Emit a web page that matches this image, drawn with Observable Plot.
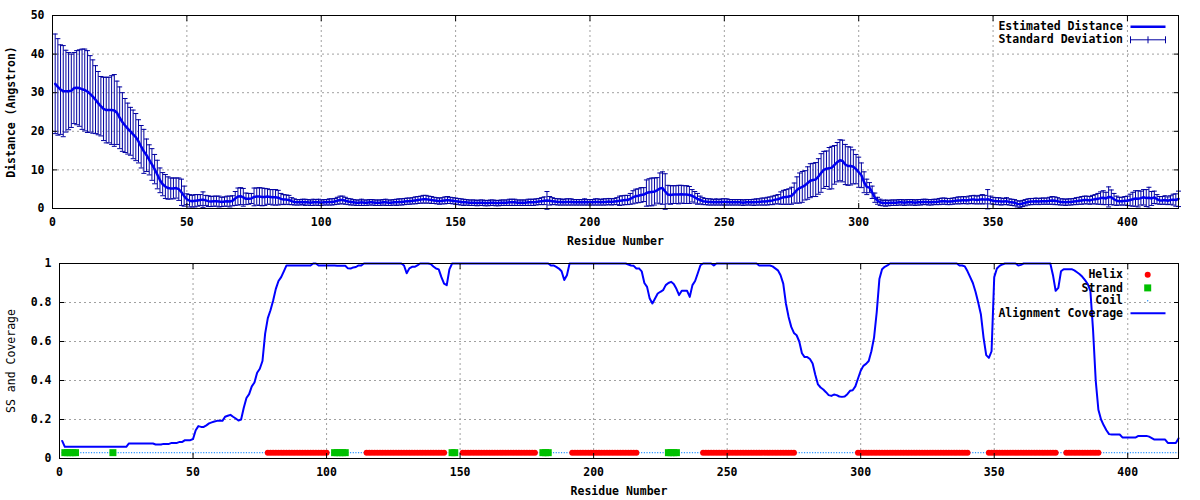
<!DOCTYPE html>
<html>
<head>
<meta charset="utf-8">
<script src="https://cdn.jsdelivr.net/npm/d3@7"></script>
<script src="https://cdn.jsdelivr.net/npm/@observablehq/plot@0.6"></script>
<style>
  body { margin: 0; background: #ffffff; }
  #chart { width: 1200px; height: 500px; }
  #chart svg { display: block; }
</style>
</head>
<body>
<div id="chart"></div>
<script>
// ---------- DATA ----------
const xTicks = [0, 50, 100, 150, 200, 250, 300, 350, 400];
const distanceTicks = [0, 10, 20, 30, 40, 50];
const coverageTicks = [0, 0.2, 0.4, 0.6, 0.8, 1];

// Estimated distance (Angstrom) per residue 1..419
const meanDistance = [
  32.3,31.5,30.8,30.4,30.4,30.4,30.5,31.2,31.3,31.2,
  30.9,30.7,30.3,29.7,29.0,28.2,27.3,26.5,25.8,25.5,
  25.5,25.5,25.4,24.8,23.5,22.4,21.5,20.7,20.0,19.2,
  18.5,17.4,16.0,14.8,13.8,12.6,11.4,10.2,8.8,7.3,
  6.3,5.7,5.3,5.2,5.2,5.3,5.0,4.2,3.2,2.4,
  2.0,1.9,2.0,2.1,2.2,2.3,2.1,1.9,1.8,1.9,
  1.9,1.8,1.7,1.8,1.9,1.8,2.0,2.6,3.1,3.2,
  2.9,2.5,2.5,2.6,3.0,3.1,3.1,3.0,3.0,3.1,
  3.0,2.9,2.9,2.8,2.5,2.3,2.3,2.2,1.9,1.7,
  1.6,1.6,1.7,1.6,1.6,1.5,1.6,1.6,1.6,1.5,
  1.6,1.6,1.7,1.7,1.8,2.0,2.2,2.2,2.0,1.8,
  1.7,1.6,1.5,1.5,1.6,1.5,1.5,1.6,1.6,1.5,
  1.5,1.5,1.6,1.6,1.5,1.5,1.6,1.6,1.7,1.7,
  1.8,1.9,1.9,2.0,2.1,2.2,2.3,2.4,2.4,2.3,
  2.2,2.1,2.0,1.9,2.0,2.1,2.2,2.1,2.0,1.9,
  1.8,1.7,1.6,1.6,1.5,1.5,1.5,1.4,1.5,1.5,
  1.4,1.4,1.5,1.5,1.4,1.4,1.5,1.5,1.5,1.6,
  1.6,1.6,1.5,1.5,1.5,1.5,1.6,1.6,1.6,1.7,
  1.8,1.9,2.0,2.1,2.0,1.9,1.8,1.7,1.7,1.6,
  1.7,1.7,1.7,1.6,1.6,1.6,1.6,1.7,1.6,1.6,
  1.6,1.7,1.7,1.6,1.7,1.7,1.8,1.7,1.8,1.9,
  2.0,2.1,2.2,2.2,2.5,2.9,3.2,3.3,3.5,3.6,
  4.0,4.2,4.3,4.4,4.7,5.2,5.3,4.4,3.6,3.5,
  3.6,3.6,3.6,3.7,3.6,3.6,3.5,3.3,2.9,2.5,
  2.2,1.9,1.8,1.7,1.7,1.6,1.7,1.6,1.7,1.7,
  1.7,1.6,1.6,1.6,1.6,1.6,1.5,1.6,1.6,1.6,
  1.6,1.7,1.7,1.8,1.8,1.9,2.0,2.1,2.3,2.4,
  2.7,2.9,3.0,3.1,3.3,4.0,4.8,5.3,5.6,6.0,
  6.6,7.2,7.4,7.5,8.3,9.2,10.0,10.3,10.4,10.6,
  11.3,12.0,12.5,12.3,11.4,11.0,11.0,10.8,10.2,9.4,
  8.6,6.8,5.6,5.4,4.2,2.8,2.0,1.6,1.4,1.4,
  1.4,1.5,1.5,1.5,1.6,1.6,1.5,1.6,1.6,1.6,
  1.5,1.6,1.6,1.7,1.7,1.6,1.6,1.7,1.7,1.8,
  1.9,1.9,1.8,1.8,1.9,2.0,2.1,2.1,2.2,2.1,
  2.2,2.3,2.3,2.2,2.3,2.4,2.3,2.4,2.2,2.0,
  1.9,1.9,1.8,1.8,1.9,1.7,1.6,1.5,1.2,1.1,
  1.3,1.5,1.7,1.8,1.8,1.9,1.8,1.9,1.9,1.9,
  2.0,2.1,2.0,1.9,1.7,1.7,1.6,1.7,1.7,1.8,
  1.9,2.0,2.1,2.2,2.2,2.1,2.3,2.4,2.5,2.7,
  2.8,2.6,3.0,2.9,2.4,2.0,1.9,1.9,2.0,2.0,
  2.2,2.4,2.6,2.5,2.7,2.9,2.7,2.8,2.6,2.9,
  2.4,2.1,2.1,2.2,2.0,2.2,2.3,2.2,2.5
];

// Standard deviation per residue 1..419
const stdDeviation = [
  12.9,12.5,11.6,11.8,10.6,10.0,9.5,9.2,9.6,9.9,
  10.4,10.6,10.6,9.9,9.5,8.8,8.2,7.7,8.2,8.5,
  8.5,8.9,9.3,8.2,8.0,7.6,7.0,6.6,6.2,6.3,
  6.1,5.6,5.5,5.7,4.2,3.9,4.1,3.8,3.7,3.2,
  3.0,3.1,2.9,2.7,2.7,2.6,2.9,3.4,2.6,1.4,
  1.6,1.5,1.6,1.5,1.4,2.0,1.3,1.4,1.3,1.3,
  1.3,1.4,1.2,1.2,1.3,1.4,1.3,1.8,2.2,2.2,
  2.3,1.5,1.4,1.3,2.3,2.2,2.3,2.3,2.2,2.0,
  1.9,2.0,2.0,1.9,1.4,1.3,1.2,1.2,0.9,0.8,
  0.7,0.7,0.7,0.8,0.7,0.7,0.8,0.7,0.8,0.7,
  0.7,0.7,0.8,0.8,0.8,0.9,1.0,1.0,0.9,0.8,
  0.8,0.7,0.7,0.7,0.8,0.7,0.7,0.7,0.7,0.7,
  0.7,0.7,0.7,0.8,0.7,0.7,0.7,0.8,0.8,0.8,
  0.8,0.8,0.8,0.8,0.9,0.9,0.9,1.0,1.0,0.9,
  0.9,0.8,0.8,0.8,0.8,0.9,0.9,0.8,0.8,0.8,
  0.8,0.8,0.8,0.7,0.7,0.7,0.7,0.7,0.7,0.7,
  0.7,0.7,0.7,0.7,0.7,0.7,0.7,0.7,0.7,0.8,
  0.8,0.8,0.7,0.7,0.7,0.7,0.8,0.8,0.8,0.8,
  0.8,0.9,1.0,2.3,1.1,0.9,0.8,0.8,0.8,0.7,
  0.8,0.8,0.8,0.7,0.7,0.7,0.7,0.8,0.7,0.7,
  0.7,0.8,0.8,0.7,0.8,0.8,0.8,0.8,0.8,0.9,
  1.2,1.2,1.2,1.2,1.4,1.7,1.8,1.8,1.9,1.8,
  3.4,3.5,3.6,3.5,3.3,4.0,4.2,4.6,2.4,2.4,
  2.3,2.3,2.4,2.3,2.3,2.3,2.2,1.6,1.5,1.4,
  1.0,0.9,0.8,0.8,0.8,0.7,0.8,0.7,0.8,0.8,
  0.8,0.7,0.7,0.7,0.7,0.7,0.7,0.7,0.7,0.7,
  0.8,0.8,0.8,0.9,0.9,1.0,1.0,1.1,1.1,1.2,
  1.6,1.8,1.9,2.0,2.2,2.6,3.4,3.9,4.0,3.8,
  4.2,4.4,4.3,4.4,4.6,5.0,4.8,4.6,5.4,5.5,
  5.0,5.1,5.3,5.4,5.2,5.0,4.9,4.4,3.8,3.9,
  3.2,2.7,2.0,1.3,1.6,1.2,0.9,0.8,0.7,0.8,
  0.7,0.7,0.7,0.7,0.7,0.7,0.7,0.7,0.7,0.7,
  0.7,0.7,0.7,0.7,0.7,0.7,0.7,0.7,0.7,0.8,
  0.8,0.8,0.8,0.8,0.8,0.8,0.9,0.9,0.9,0.9,
  1.0,1.0,1.1,1.0,1.1,1.2,1.1,2.5,1.0,0.9,
  0.9,0.9,0.9,0.8,0.9,0.8,0.8,0.8,0.8,0.8,
  0.8,0.8,0.8,0.8,0.8,0.8,0.8,0.8,0.8,0.8,
  0.9,1.0,1.0,0.9,0.8,0.8,0.8,0.8,0.8,0.8,
  0.9,0.9,1.0,1.0,1.0,1.0,1.1,1.2,1.4,1.6,
  1.8,1.6,2.6,1.9,1.5,1.2,1.0,1.0,1.1,1.2,
  1.5,1.8,2.0,2.1,1.8,2.0,2.2,2.7,1.8,1.6,
  1.2,1.0,1.0,1.1,1.0,1.1,1.4,1.6,2.0
];

// Alignment coverage per residue 1..419
const coverage = [
  0.09,0.06,0.06,0.06,0.06,0.06,0.06,0.06,0.06,0.06,
  0.06,0.06,0.06,0.06,0.06,0.06,0.06,0.06,0.06,0.06,
  0.06,0.06,0.06,0.06,0.06,0.077,0.077,0.077,0.077,0.077,
  0.077,0.077,0.077,0.077,0.077,0.072,0.072,0.072,0.075,0.075,
  0.075,0.08,0.08,0.08,0.085,0.085,0.094,0.094,0.094,0.1,
  0.145,0.166,0.162,0.162,0.17,0.18,0.185,0.19,0.193,0.193,
  0.193,0.214,0.219,0.224,0.214,0.205,0.195,0.2,0.26,0.31,
  0.33,0.37,0.39,0.44,0.46,0.5,0.64,0.72,0.76,0.81,
  0.87,0.91,0.93,0.96,0.99,0.99,0.99,0.99,0.99,0.99,
  0.99,0.99,0.99,0.99,1,1,0.99,0.99,0.99,0.99,
  0.99,0.99,0.99,0.988,0.988,0.988,0.988,0.975,0.974,0.98,
  0.982,0.99,0.99,1,1,1,1,1,1,1,
  1,1,1,1,1,1,1,1,0.99,0.95,
  0.975,0.983,0.983,0.99,1,1,1,1,0.997,0.985,
  0.974,0.97,0.93,0.897,0.889,0.97,1,1,1,1,
  1,1,1,1,1,1,1,1,1,1,
  1,1,1,1,1,1,1,1,1,1,
  1,1,1,1,1,1,1,1,1,1,
  1,1,1,0.99,0.99,0.983,0.974,0.96,0.915,0.94,
  1,1,1,1,1,1,1,1,1,1,
  1,1,1,1,1,1,1,1,1,1,
  1,1,0.995,0.99,0.988,0.974,0.975,0.96,0.9,0.88,
  0.82,0.795,0.82,0.846,0.855,0.863,0.889,0.9,0.906,0.895,
  0.87,0.838,0.86,0.86,0.86,0.829,0.889,0.91,0.95,0.991,
  1,1,1,1,0.99,1,1,1,1,1,
  1,1,1,1,1,1,1,1,1,1,
  1,0.99,0.99,0.99,0.99,0.99,0.985,0.975,0.965,0.94,
  0.897,0.795,0.726,0.675,0.644,0.632,0.6,0.54,0.52,0.52,
  0.51,0.487,0.43,0.38,0.364,0.354,0.34,0.325,0.321,0.328,
  0.325,0.318,0.316,0.318,0.33,0.347,0.35,0.37,0.41,0.45,
  0.475,0.485,0.5,0.55,0.62,0.75,0.92,0.97,0.983,0.99,
  1,1,1,1,1,1,1,1,1,1,
  1,1,1,1,1,1,1,1,1,1,
  1,1,1,1,1,1,0.99,0.99,0.985,0.96,
  0.93,0.9,0.855,0.8,0.74,0.62,0.53,0.516,0.55,0.93,
  0.974,0.988,0.995,1,1,1,1,1,0.99,0.993,
  1,1,1,1,1,1,1,1,1,1,
  1,0.94,0.86,0.875,0.96,0.971,0.971,0.971,0.971,0.965,
  0.955,0.945,0.932,0.915,0.895,0.86,0.66,0.4,0.25,0.2,
  0.17,0.145,0.125,0.123,0.123,0.123,0.123,0.108,0.108,0.108,
  0.108,0.108,0.108,0.116,0.116,0.116,0.116,0.112,0.105,0.097,
  0.097,0.097,0.097,0.097,0.08,0.08,0.08,0.08,0.103
];

// Secondary structure segments [first residue, last residue]
const helixSegments = [[78,100],[115,144],[151,178],[192,216],[241,275],[299,340],[348,373],[377,389]];
const strandSegments = [[2,6],[20,20],[103,107],[147,148],[181,183],[228,231]];
const ssLevel = 0.03;

// ---------- BUILD ROWS ----------
const distRows = meanDistance.map((m, i) => ({
  res: i + 1, mean: m, lo: m - stdDeviation[i], hi: m + stdDeviation[i]
}));
const covRows = coverage.map((c, i) => ({res: i + 1, cov: c}));
const inSeg = (segs, r) => segs.some(([a, b]) => r >= a && r <= b);
const ssRows = coverage.map((_, i) => {
  const r = i + 1;
  const type = inSeg(helixSegments, r) ? "Helix" : inSeg(strandSegments, r) ? "Strand" : "Coil";
  return {res: r, type, level: ssLevel};
});

// ---------- STYLE ----------
const FONT = "'DejaVu Sans Mono', 'Liberation Mono', monospace";
const LINE = "#0000f0";
const BAR = "#0000a0";
const GRID = {stroke: "#a0a0a0", strokeOpacity: 1, strokeDasharray: "2,3", strokeWidth: 1};
const baseStyle = {fontFamily: FONT, fontSize: "11.5px", fontWeight: "bold", color: "black", background: "white", overflow: "visible"};

const hline = {draw(ctx, size) { const r = Math.sqrt(size / Math.PI); ctx.moveTo(-r, 0); ctx.lineTo(r, 0); }};
const errSample = {draw(ctx, size) {
  const r = Math.sqrt(size / Math.PI);
  ctx.moveTo(-r, 0); ctx.lineTo(r, 0);
  ctx.moveTo(-r, -3.5); ctx.lineTo(-r, 3.5);
  ctx.moveTo(r, -3.5); ctx.lineTo(r, 3.5);
  ctx.moveTo(0, -3.5); ctx.lineTo(0, 3.5);
}};

function frameTicks(xt, yt, yFmt) {
  return [
    Plot.frame({stroke: "black", strokeWidth: 1}),
    Plot.axisX(xt, {tickSize: 0, tickPadding: 9, label: null}),
    Plot.axisX(xt, {tickSize: 5, dy: -5, tickFormat: () => "", label: null}),
    Plot.axisX(xt, {anchor: "top", tickSize: 5, dy: 5, tickFormat: () => "", label: null}),
    Plot.axisY(yt, {tickSize: 0, tickPadding: 8, tickFormat: yFmt, label: null}),
    Plot.axisY(yt, {tickSize: 5, dx: 5, tickFormat: () => "", label: null}),
    Plot.axisY(yt, {anchor: "right", tickSize: 5, dx: -5, tickFormat: () => "", label: null})
  ];
}
const legendText = {frameAnchor: "top-right", textAnchor: "end", lineAnchor: "middle", dx: -55.5};

// ---------- TOP PANEL ----------
const topPlot = Plot.plot({
  width: 1200, height: 250,
  marginTop: 15, marginRight: 22, marginBottom: 42, marginLeft: 52,
  x: {domain: [0, 419]},
  y: {domain: [0, 50]},
  style: baseStyle,
  marks: [
    Plot.gridX(xTicks, GRID),
    Plot.gridY(distanceTicks, GRID),
    Plot.ruleX(distRows, {x: "res", y1: "lo", y2: "hi", stroke: BAR, strokeWidth: 1}),
    Plot.dot(distRows, {x: "res", y: "hi", symbol: hline, r: 2.5, stroke: BAR, fill: "none", strokeWidth: 1}),
    Plot.dot(distRows, {x: "res", y: "lo", symbol: hline, r: 2.5, stroke: BAR, fill: "none", strokeWidth: 1}),
    Plot.line(distRows, {x: "res", y: "mean", stroke: LINE, strokeWidth: 2.5}),
    ...frameTicks(xTicks, distanceTicks, d => String(d)),
    Plot.text(["Distance (Angstron)"], {frameAnchor: "left", textAnchor: "middle", lineAnchor: "middle", rotate: -90, dx: -41}),
    Plot.text(["Residue Number"], {frameAnchor: "bottom", textAnchor: "middle", lineAnchor: "middle", dy: 32.5}),
    Plot.text(["Estimated Distance"], {...legendText, dy: 11.3}),
    Plot.text(["Standard Deviation"], {...legendText, dy: 24.3}),
    Plot.dot(["Estimated Distance"], {frameAnchor: "top-right", dx: -30.5, dy: 11.3, symbol: hline, r: 17.5, stroke: LINE, strokeWidth: 2.5, fill: "none"}),
    Plot.dot(["Standard Deviation"], {frameAnchor: "top-right", dx: -30.5, dy: 24.3, symbol: errSample, r: 17.5, stroke: BAR, strokeWidth: 1, fill: "none"})
  ]
});

// ---------- BOTTOM PANEL ----------
const ssColor = {Helix: "#ff0000", Strand: "#00c000", Coil: "#1a8cff"};
const bottomPlot = Plot.plot({
  width: 1200, height: 250,
  marginTop: 13, marginRight: 22, marginBottom: 42, marginLeft: 59,
  x: {domain: [0, 419]},
  y: {domain: [0, 1]},
  style: baseStyle,
  marks: [
    Plot.gridX(xTicks, GRID),
    Plot.gridY(coverageTicks, GRID),
    Plot.dot(ssRows.filter(d => d.type === "Coil"), {x: "res", y: "level", r: 0.7, fill: ssColor.Coil, stroke: "none"}),
    Plot.dot(ssRows.filter(d => d.type === "Strand"), {x: "res", y: "level", symbol: "square", r: 3.95, fill: ssColor.Strand, stroke: "none"}),
    Plot.dot(ssRows.filter(d => d.type === "Helix"), {x: "res", y: "level", r: 3, fill: ssColor.Helix, stroke: "none"}),
    Plot.line(covRows, {x: "res", y: "cov", stroke: "#0000ff", strokeWidth: 2}),
    ...frameTicks(xTicks, coverageTicks, d => String(+d.toFixed(1))),
    Plot.text(["SS and Coverage"], {frameAnchor: "left", textAnchor: "middle", lineAnchor: "middle", rotate: -90, dx: -48, fontWeight: "normal"}),
    Plot.text(["Residue Number"], {frameAnchor: "bottom", textAnchor: "middle", lineAnchor: "middle", dy: 32.5}),
    Plot.text(["Helix"], {...legendText, dy: 11.3}),
    Plot.text(["Strand"], {...legendText, dy: 24.4}),
    Plot.text(["Coil"], {...legendText, dy: 37.2}),
    Plot.text(["Alignment Coverage"], {...legendText, dy: 49.8}),
    Plot.dot(["Helix"], {frameAnchor: "top-right", dx: -30.8, dy: 11.3, r: 3, fill: ssColor.Helix, stroke: "none"}),
    Plot.dot(["Strand"], {frameAnchor: "top-right", dx: -30.8, dy: 24.4, symbol: "square", r: 3.95, fill: ssColor.Strand, stroke: "none"}),
    Plot.dot(["Coil"], {frameAnchor: "top-right", dx: -30.8, dy: 37.2, r: 0.7, fill: ssColor.Coil, stroke: "none"}),
    Plot.dot(["Alignment Coverage"], {frameAnchor: "top-right", dx: -30.5, dy: 49.8, symbol: hline, r: 17.5, stroke: "#0000ff", strokeWidth: 2, fill: "none"})
  ]
});

const chart = document.getElementById("chart");
chart.appendChild(topPlot);
chart.appendChild(bottomPlot);
</script>
</body>
</html>
